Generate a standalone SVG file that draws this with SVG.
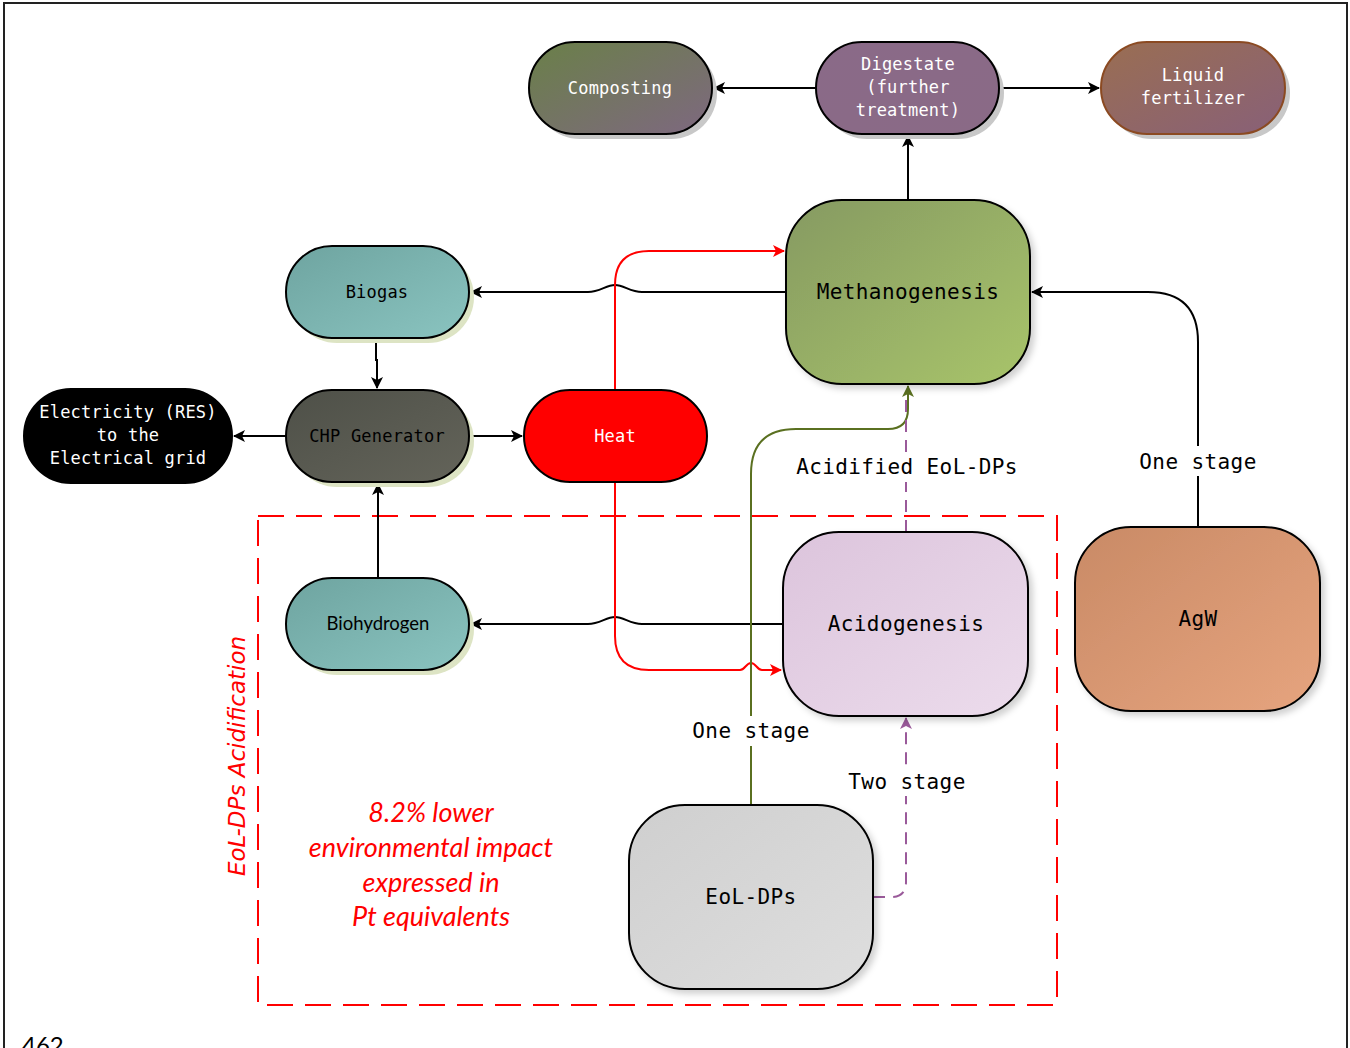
<svg xmlns="http://www.w3.org/2000/svg" width="1350" height="1048" viewBox="0 0 1350 1048">
<defs>
<style>
.node{stroke:#000;stroke-width:2}
.mono{font-family:"DejaVu Sans Mono","Liberation Mono",monospace;text-anchor:middle}
.big{font-size:21px;letter-spacing:0.4px;fill:#000}
.sm{font-size:17px;letter-spacing:0.2px}
.w{fill:#fff}
.k{fill:#000}
.conn{fill:none;stroke:#000;stroke-width:2}
.red{fill:none;stroke:#ff0000;stroke-width:2}
.grn{fill:none;stroke:#5a7020;stroke-width:2}
.pur{fill:none;stroke:#9a5a9a;stroke-width:2;stroke-dasharray:12,8}
.lbl{font-family:"DejaVu Sans Mono","Liberation Mono",monospace;font-size:21px;letter-spacing:0.4px;text-anchor:middle;fill:#000}
.note{font-family:Lato,"Open Sans",sans-serif;font-style:italic;font-size:27px;fill:#ff0000;text-anchor:middle}
</style>
<linearGradient id="gComp" x1="0" y1="0" x2="1" y2="1"><stop offset="0" stop-color="#6a8048"/><stop offset="1" stop-color="#7e6880"/></linearGradient>
<linearGradient id="gDig" x1="0" y1="0" x2="1" y2="1"><stop offset="0" stop-color="#8a6a88"/><stop offset="1" stop-color="#8a6a86"/></linearGradient>
<linearGradient id="gLiq" x1="0" y1="0" x2="1" y2="1"><stop offset="0" stop-color="#9a6e52"/><stop offset="1" stop-color="#886078"/></linearGradient>
<linearGradient id="gMeth" x1="0" y1="0" x2="1" y2="1"><stop offset="0" stop-color="#869a62"/><stop offset="1" stop-color="#a8c46a"/></linearGradient>
<linearGradient id="gTeal" x1="0" y1="0" x2="1" y2="1"><stop offset="0" stop-color="#6ea4a0"/><stop offset="1" stop-color="#8ac4c0"/></linearGradient>
<linearGradient id="gChp" x1="0" y1="0" x2="1" y2="1"><stop offset="0" stop-color="#4e5048"/><stop offset="1" stop-color="#64645a"/></linearGradient>
<linearGradient id="gAcid" x1="0" y1="0" x2="1" y2="1"><stop offset="0" stop-color="#dcc4dc"/><stop offset="1" stop-color="#ecdcec"/></linearGradient>
<linearGradient id="gAgw" x1="0" y1="0" x2="1" y2="1"><stop offset="0" stop-color="#c98a66"/><stop offset="1" stop-color="#e6a47e"/></linearGradient>
<linearGradient id="gEol" x1="0" y1="0" x2="1" y2="1"><stop offset="0" stop-color="#cfcfcf"/><stop offset="1" stop-color="#dedede"/></linearGradient>
<filter id="sh" x="-10%" y="-10%" width="130%" height="130%"><feDropShadow dx="4" dy="4" stdDeviation="3" flood-color="#000" flood-opacity="0.18"/></filter>
<marker id="aK" viewBox="0 0 12 12" refX="11" refY="6" markerWidth="12" markerHeight="12" markerUnits="userSpaceOnUse" orient="auto"><path d="M0,0 L12,6 L0,12 L3,6 z" fill="#000"/></marker>
<marker id="aR" viewBox="0 0 12 12" refX="11" refY="6" markerWidth="12" markerHeight="12" markerUnits="userSpaceOnUse" orient="auto"><path d="M0,0 L12,6 L0,12 L3,6 z" fill="#ff0000"/></marker>
<marker id="aG" viewBox="0 0 12 12" refX="11" refY="6" markerWidth="12" markerHeight="12" markerUnits="userSpaceOnUse" orient="auto"><path d="M0,0 L12,6 L0,12 L3,6 z" fill="#5a7020"/></marker>
<marker id="aP" viewBox="0 0 12 12" refX="11" refY="6" markerWidth="12" markerHeight="12" markerUnits="userSpaceOnUse" orient="auto"><path d="M0,0 L12,6 L0,12 L3,6 z" fill="#9a5a9a"/></marker>
</defs>
<rect width="1350" height="1048" fill="#fff"/>
<path d="M4,1048 V3 H1347 V1048" fill="none" stroke="#222" stroke-width="2"/>
<text x="22" y="1054" font-family="Lato,'Liberation Sans',sans-serif" font-size="24" fill="#000">462</text>

<g id="acidification-box">
<rect x="258" y="516" width="799" height="489" fill="none" stroke="#ff0000" stroke-width="2" stroke-dasharray="26,12"/>
<text class="note" x="0" y="0" transform="translate(245,756) rotate(-90)" style="font-family:'DejaVu Sans',sans-serif;font-size:23px">EoL-DPs Acidification</text>
<text class="note" x="431" y="822">8.2% lower</text>
<text class="note" x="431" y="857">environmental impact</text>
<text class="note" x="431" y="892">expressed in</text>
<text class="note" x="431" y="926">Pt equivalents</text>
</g>

<g id="connectors">
<path class="conn" d="M816,88 H714" marker-end="url(#aK)"/>
<path class="conn" d="M999,88 H1099" marker-end="url(#aK)"/>
<path class="conn" d="M908,200 V136" marker-end="url(#aK)"/>
<path class="conn" d="M786,292 H642 C630,292 624,285 615,285 C606,285 600,292 588,292 H471" marker-end="url(#aK)"/>
<path class="conn" d="M376,338 V360 H377 V388" marker-end="url(#aK)"/>
<path class="conn" d="M286,436 H234" marker-end="url(#aK)"/>
<path class="conn" d="M469,436 H522" marker-end="url(#aK)"/>
<path class="conn" d="M378,578 V484" marker-end="url(#aK)"/>
<path class="conn" d="M783,624 H642 C630,624 624,617 615,617 C606,617 600,624 588,624 H471" marker-end="url(#aK)"/>
<path class="conn" d="M1198,527 V342 Q1198,292 1148,292 H1032" marker-end="url(#aK)"/>
<path class="red" d="M615,390 V285 Q615,251 649,251 H784" marker-end="url(#aR)"/>
<path class="red" d="M615,482 V636 Q615,670 649,670 H740 C745,670 746,663 751,663 C756,663 757,670 762,670 H781" marker-end="url(#aR)"/>
<path class="grn" d="M751,805 V474 Q751,429 796,429 H888 Q908,429 908,409 V386" marker-end="url(#aG)"/>
<path class="pur" d="M906,532 V392"/>
<path class="pur" d="M873,897 H891 Q906,897 906,882 V718" marker-end="url(#aP)"/>
<rect x="1133" y="446" width="130" height="30" fill="#fff"/>
<text class="lbl" x="1198" y="469">One stage</text>
<rect x="790" y="452" width="234" height="30" fill="#fff"/>
<text class="lbl" x="907" y="474">Acidified EoL-DPs</text>
<rect x="686" y="716" width="130" height="30" fill="#fff"/>
<text class="lbl" x="751" y="738">One stage</text>
<rect x="843" y="766" width="128" height="30" fill="#fff"/>
<text class="lbl" x="907" y="789">Two stage</text>
</g>

<g id="composting">
<rect x="534" y="47" width="183" height="92" rx="46" fill="#c8c8c8"/>
<rect class="node" x="529" y="42" width="183" height="92" rx="46" fill="url(#gComp)"/>
<text class="mono sm w" x="620" y="94">Composting</text>
</g>
<g id="digestate">
<rect x="821" y="47" width="183" height="92" rx="46" fill="#c8c8c8"/>
<rect class="node" x="816" y="42" width="183" height="92" rx="46" fill="url(#gDig)"/>
<text class="mono sm w" x="908" y="70">Digestate</text>
<text class="mono sm w" x="908" y="93">(further</text>
<text class="mono sm w" x="908" y="116">treatment)</text>
</g>
<g id="liquid-fertilizer">
<rect x="1106" y="47" width="184" height="92" rx="46" fill="#c8c8c8"/>
<rect x="1101" y="42" width="184" height="92" rx="46" fill="url(#gLiq)" stroke="#8b4a22" stroke-width="2"/>
<text class="mono sm w" x="1193" y="81">Liquid</text>
<text class="mono sm w" x="1193" y="104">fertilizer</text>
</g>
<g id="methanogenesis">
<rect class="node" x="786" y="200" width="244" height="184" rx="56" fill="url(#gMeth)" filter="url(#sh)"/>
<text class="mono big" x="908" y="299">Methanogenesis</text>
</g>
<g id="biogas">
<rect x="291" y="251" width="183" height="92" rx="46" fill="#dde4c4"/>
<rect class="node" x="286" y="246" width="183" height="92" rx="46" fill="url(#gTeal)"/>
<text class="mono sm k" x="377" y="298">Biogas</text>
</g>
<g id="chp-generator">
<rect x="291" y="395" width="183" height="92" rx="46" fill="#dde4c4"/>
<rect class="node" x="286" y="390" width="183" height="92" rx="46" fill="url(#gChp)"/>
<text class="mono sm k" x="377" y="442">CHP Generator</text>
</g>
<g id="electricity">
<rect class="node" x="24" y="389" width="208" height="94" rx="47" fill="#000"/>
<text class="mono sm w" x="128" y="418">Electricity (RES)</text>
<text class="mono sm w" x="128" y="441">to the</text>
<text class="mono sm w" x="128" y="464">Electrical grid</text>
</g>
<g id="heat">
<rect class="node" x="524" y="390" width="183" height="92" rx="46" fill="#ff0000"/>
<text class="mono sm w" x="615" y="442">Heat</text>
</g>
<g id="biohydrogen">
<rect x="291" y="583" width="183" height="92" rx="46" fill="#dde4c4"/>
<rect class="node" x="286" y="578" width="183" height="92" rx="46" fill="url(#gTeal)"/>
<text x="378" y="630" font-family="Lato,'Open Sans',sans-serif" font-size="18.5" text-anchor="middle" fill="#000">Biohydrogen</text>
</g>
<g id="acidogenesis">
<rect class="node" x="783" y="532" width="245" height="184" rx="56" fill="url(#gAcid)" filter="url(#sh)"/>
<text class="mono big" x="906" y="631">Acidogenesis</text>
</g>
<g id="agw">
<rect class="node" x="1075" y="527" width="245" height="184" rx="56" fill="url(#gAgw)" filter="url(#sh)"/>
<text class="mono big" x="1198" y="626">AgW</text>
</g>
<g id="eol-dps">
<rect class="node" x="629" y="805" width="244" height="184" rx="56" fill="url(#gEol)" filter="url(#sh)"/>
<text class="mono big" x="751" y="904">EoL-DPs</text>
</g>
</svg>
